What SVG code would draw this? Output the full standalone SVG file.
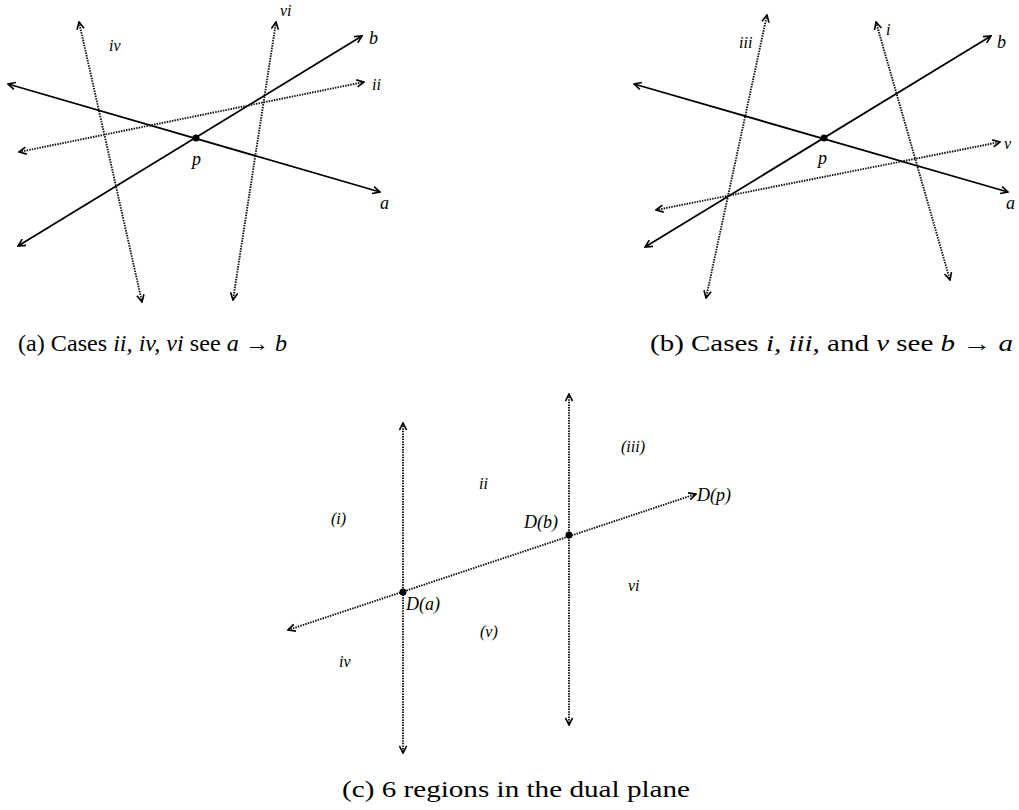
<svg xmlns="http://www.w3.org/2000/svg" width="1019" height="810" viewBox="0 0 1019 810">
<style>
.solid{stroke:#000;stroke-width:1.8;fill:none;marker-start:url(#ah);marker-end:url(#ah)}
.dot{stroke:#111;stroke-width:1.9;fill:none;stroke-dasharray:1.5 1.1;marker-start:url(#ah);marker-end:url(#ah)}
.lbl{font-family:"Liberation Serif",serif;font-style:italic;font-size:16px;fill:#000}
.big{font-family:"Liberation Serif",serif;font-style:italic;font-size:18px;fill:#000}
.cap{font-family:"Liberation Serif",serif;font-size:23px;fill:#000}
.capc{font-family:"Liberation Serif",serif;font-size:24px;fill:#000}
.it{font-style:italic}
</style>
<defs>
<marker id="ah" viewBox="0 0 10 10" refX="9" refY="5" markerWidth="9" markerHeight="9" markerUnits="userSpaceOnUse" orient="auto-start-reverse">
<path d="M1,1 L9,5 L1,9" fill="none" stroke="#000" stroke-width="1.8"/>
</marker>
</defs>
<g id="panel-a">
<g id="connectors-a">
<line class="solid" x1="8" y1="84" x2="380" y2="192"/>
<line class="solid" x1="18" y1="246" x2="362" y2="36"/>
<line class="dot" x1="79" y1="22" x2="142" y2="302"/>
<line class="dot" x1="276" y1="22" x2="233" y2="300"/>
<line class="dot" x1="19" y1="152" x2="364" y2="82"/>
</g>
<g id="a-p"><circle cx="196" cy="138" r="3.5" fill="#000"/><text class="big" x="192" y="165">p</text></g>
<g id="a-labels">
<text class="lbl" x="109" y="51">iv</text>
<text class="lbl" x="280" y="16">vi</text>
<text class="big" x="369" y="44">b</text>
<text class="lbl" x="372" y="90">ii</text>
<text class="big" x="380" y="209">a</text>
</g>
</g>
<g id="panel-b">
<g id="connectors-b">
<line class="solid" x1="634" y1="84" x2="1008" y2="192"/>
<line class="solid" x1="645" y1="247" x2="991" y2="36"/>
<line class="dot" x1="767" y1="15" x2="706" y2="298"/>
<line class="dot" x1="876" y1="22" x2="950" y2="280"/>
<line class="dot" x1="656" y1="210" x2="1000" y2="142"/>
</g>
<g id="b-p"><circle cx="824" cy="138" r="3.5" fill="#000"/><text class="big" x="818" y="164">p</text></g>
<g id="b-labels">
<text class="lbl" x="739" y="48">iii</text>
<text class="lbl" x="886" y="35">i</text>
<text class="big" x="997" y="48">b</text>
<text class="lbl" x="1004" y="149">v</text>
<text class="big" x="1006" y="209">a</text>
</g>
</g>
<g id="panel-c">
<g id="connectors-c">
<line class="dot" x1="403" y1="423" x2="403" y2="753"/>
<line class="dot" x1="569" y1="394" x2="569" y2="725"/>
<line class="dot" x1="288" y1="630" x2="696" y2="494"/>
</g>
<g id="Da"><circle cx="403" cy="592" r="3.5" fill="#000"/><text class="big" x="406" y="610">D(a)</text></g>
<g id="Db"><circle cx="569" cy="535" r="3.5" fill="#000"/><text class="big" x="524" y="528">D(b)</text></g>
<g id="Dp"><text class="big" x="697" y="501">D(p)</text></g>
<g id="c-labels">
<text class="lbl" x="331" y="524">(i)</text>
<text class="lbl" x="479" y="489">ii</text>
<text class="lbl" x="621" y="452">(iii)</text>
<text class="lbl" x="628" y="591">vi</text>
<text class="lbl" x="480" y="637">(v)</text>
<text class="lbl" x="339" y="667">iv</text>
</g>
</g>
<g id="captions">
<text class="cap" x="18" y="351" textLength="269" lengthAdjust="spacingAndGlyphs">(a) Cases <tspan class="it">ii, iv, vi</tspan> see <tspan class="it">a</tspan> → <tspan class="it">b</tspan></text>
<text class="cap" x="650" y="351" textLength="363" lengthAdjust="spacingAndGlyphs">(b) Cases <tspan class="it">i, iii,</tspan> and <tspan class="it">v</tspan> see <tspan class="it">b</tspan> → <tspan class="it">a</tspan></text>
<text class="capc" x="342" y="797" textLength="348" lengthAdjust="spacingAndGlyphs">(c) 6 regions in the dual plane</text>
</g>
</svg>
